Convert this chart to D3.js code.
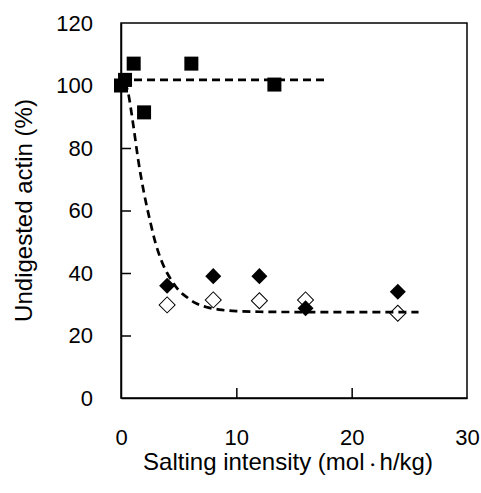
<!DOCTYPE html>
<html>
<head>
<meta charset="utf-8">
<script src="https://cdn.jsdelivr.net/npm/d3@7"></script>
<style>
  body { margin: 0; background: #fff; }
  text { font-family: "Liberation Sans", Arial, sans-serif; }
</style>
</head>
<body>
<div id="chart-area"></div>
<script>
// control series (filled squares)
var squareX = [0, 0.35, 1.1, 2.0, 6.1, 13.3];
var squareY = [100, 101.8, 107, 91.4, 107, 100.3];

// salted series (filled diamonds)
var fillX = [4, 8, 12, 16, 24];
var fillY = [35.9, 39, 39, 28.7, 34];

// salted series (open diamonds)
var openX = [4, 8, 12, 16, 24];
var openY = [29.8, 31.4, 31.1, 31.4, 27.1];

// fitted lines, points
var flatX = [0, 18];
var flatY = [101.8, 101.8];
var fitX = [0.3, 0.6, 1.0, 1.5, 2.0, 2.5, 3.0, 3.5, 4.0, 4.5, 5.0, 5.7, 6.5, 7.5, 8.5, 10, 12, 16, 25.8];
var fitY = [101, 98, 89, 76, 65.5, 57, 49.5, 44, 40, 37, 34.5, 32.3, 30.3, 29, 28.3, 27.8, 27.6, 27.5, 27.5];

var xTicks = [0, 10, 20, 30];
var yTicks = [0, 20, 40, 60, 80, 100, 120];

var margin = { left: 121, right: 14, top: 23, bottom: 95 },
    W = 481, H = 493,
    width = W - margin.left - margin.right,
    height = H - margin.top - margin.bottom;

var svg = d3.select("#chart-area")
    .append("svg")
        .attr("width", W)
        .attr("height", H)
        .append("g")
            .attr("transform", "translate(" + margin.left + "," + margin.top + ")");

var x = d3.scaleLinear().domain([0, 30]).range([0, width]);
var y = d3.scaleLinear().domain([0, 120]).range([height, 0]);

var zip = function(a, b){ return a.map(function(v, i){ return [v, b[i]]; }); };

// frame
svg.append("rect")
    .attr("width", width)
    .attr("height", height)
    .attr("fill", "none")
    .attr("stroke", "#000")
    .attr("stroke-width", 1.5);

var x_axis = d3.axisBottom(x).tickValues(xTicks).tickSizeInner(-10).tickSizeOuter(0).tickPadding(31);
var y_axis = d3.axisLeft(y).tickValues(yTicks).tickSizeInner(-10).tickSizeOuter(0).tickPadding(28);

var gx = svg.append("g")
    .attr("transform", "translate(0," + height + ")")
    .call(x_axis);
var gy = svg.append("g").call(y_axis);

[gx, gy].forEach(function(g){
    g.select(".domain").attr("stroke-width", 1.5);
    g.selectAll(".tick line").attr("stroke-width", 1.5);
    g.selectAll(".tick text")
        .attr("font-family", "Liberation Sans, Arial, sans-serif")
        .attr("font-size", 22)
        .attr("fill", "#000");
});
gx.selectAll(".tick line").filter(function(d){ return d === 0 || d === 30; }).remove();
gy.selectAll(".tick line").filter(function(d){ return d === 0 || d === 120; }).remove();

// axis titles
var xt = svg.append("text")
    .attr("x", width / 2 - 6)
    .attr("y", height + 72)
    .attr("text-anchor", "middle")
    .attr("font-size", 24);
xt.append("tspan").text("Salting intensity (mol");
xt.append("tspan").attr("font-size", 15).attr("font-weight", "bold").text("\u30FB");
xt.append("tspan").text("h/kg)");

svg.append("text")
    .attr("transform", "translate(" + (-89) + "," + (height / 2) + ") rotate(-90)")
    .attr("text-anchor", "middle")
    .attr("font-size", 24)
    .text("Undigested actin (%)");

// markers
var diamond = d3.symbol().type(d3.symbolSquare).size(128);

svg.selectAll(".open-d")
    .data(zip(openX, openY))
    .enter()
    .append("path")
    .attr("class", "open-d")
    .attr("d", diamond)
    .attr("transform", function(d){ return "translate(" + x(d[0]) + "," + y(d[1]) + ") rotate(45)"; })
    .attr("fill", "#fff")
    .attr("stroke", "#000")
    .attr("stroke-width", 1);

svg.selectAll(".fill-d")
    .data(zip(fillX, fillY))
    .enter()
    .append("path")
    .attr("class", "fill-d")
    .attr("d", diamond)
    .attr("transform", function(d){ return "translate(" + x(d[0]) + "," + y(d[1]) + ") rotate(45)"; })
    .attr("fill", "#000");

svg.selectAll(".sq")
    .data(zip(squareX, squareY))
    .enter()
    .append("rect")
    .attr("class", "sq")
    .attr("x", function(d){ return x(d[0]) - 7; })
    .attr("y", function(d){ return y(d[1]) - 7; })
    .attr("width", 14)
    .attr("height", 14)
    .attr("fill", "#000");

// dashed fits
var line = d3.line()
    .x(function(d){ return x(d[0]); })
    .y(function(d){ return y(d[1]); })
    .curve(d3.curveMonotoneX);

[zip(flatX, flatY), zip(fitX, fitY)].forEach(function(pts){
    svg.append("path")
        .datum(pts)
        .attr("d", line)
        .attr("fill", "none")
        .attr("stroke", "#000")
        .attr("stroke-width", 2.7)
        .attr("stroke-dasharray", "8,5");
});
</script>
</body>
</html>
